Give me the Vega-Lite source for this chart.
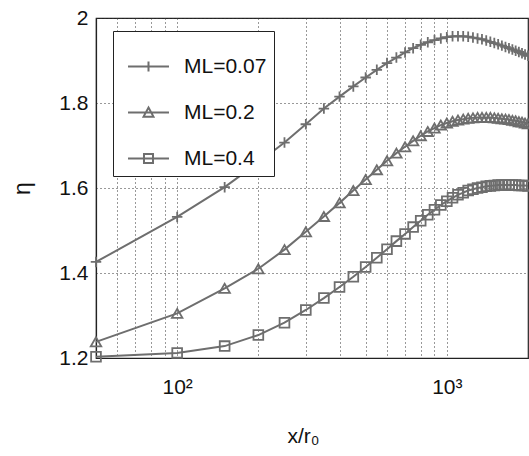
{
  "$schema": "https://vega.github.io/schema/vega-lite/v6.json",
  "width": 432,
  "height": 340,
  "autosize": {"type": "none"},
  "padding": {"left": 96, "top": 18, "right": 1, "bottom": 98},
  "background": "white",
  "config": {
    "view": {"stroke": "#222", "strokeWidth": 1.2},
    "font": "Liberation Sans",
    "axis": {"labelColor": "#111", "titleColor": "#111", "domainColor": "#222", "domainWidth": 1.2, "titleFontWeight": "normal"}
  },
  "data": {"values": [
    {"x": 50, "eta": 1.426, "ML": "ML=0.07"}, {"x": 100, "eta": 1.532, "ML": "ML=0.07"}, {"x": 150, "eta": 1.602, "ML": "ML=0.07"}, {"x": 200, "eta": 1.660, "ML": "ML=0.07"},
    {"x": 250, "eta": 1.707, "ML": "ML=0.07"}, {"x": 300, "eta": 1.750, "ML": "ML=0.07"}, {"x": 350, "eta": 1.787, "ML": "ML=0.07"}, {"x": 400, "eta": 1.815, "ML": "ML=0.07"},
    {"x": 450, "eta": 1.839, "ML": "ML=0.07"}, {"x": 500, "eta": 1.860, "ML": "ML=0.07"}, {"x": 550, "eta": 1.878, "ML": "ML=0.07"}, {"x": 600, "eta": 1.894, "ML": "ML=0.07"},
    {"x": 650, "eta": 1.907, "ML": "ML=0.07"}, {"x": 700, "eta": 1.919, "ML": "ML=0.07"}, {"x": 750, "eta": 1.929, "ML": "ML=0.07"}, {"x": 800, "eta": 1.937, "ML": "ML=0.07"},
    {"x": 850, "eta": 1.943, "ML": "ML=0.07"}, {"x": 900, "eta": 1.948, "ML": "ML=0.07"}, {"x": 950, "eta": 1.952, "ML": "ML=0.07"}, {"x": 1000, "eta": 1.955, "ML": "ML=0.07"},
    {"x": 1050, "eta": 1.957, "ML": "ML=0.07"}, {"x": 1100, "eta": 1.957, "ML": "ML=0.07"}, {"x": 1150, "eta": 1.957, "ML": "ML=0.07"}, {"x": 1200, "eta": 1.956, "ML": "ML=0.07"},
    {"x": 1250, "eta": 1.954, "ML": "ML=0.07"}, {"x": 1300, "eta": 1.952, "ML": "ML=0.07"}, {"x": 1350, "eta": 1.950, "ML": "ML=0.07"}, {"x": 1400, "eta": 1.947, "ML": "ML=0.07"},
    {"x": 1450, "eta": 1.944, "ML": "ML=0.07"}, {"x": 1500, "eta": 1.941, "ML": "ML=0.07"}, {"x": 1550, "eta": 1.938, "ML": "ML=0.07"}, {"x": 1600, "eta": 1.935, "ML": "ML=0.07"},
    {"x": 1650, "eta": 1.932, "ML": "ML=0.07"}, {"x": 1700, "eta": 1.929, "ML": "ML=0.07"}, {"x": 1750, "eta": 1.926, "ML": "ML=0.07"}, {"x": 1800, "eta": 1.923, "ML": "ML=0.07"},
    {"x": 1850, "eta": 1.920, "ML": "ML=0.07"}, {"x": 1900, "eta": 1.917, "ML": "ML=0.07"}, {"x": 1950, "eta": 1.914, "ML": "ML=0.07"}, {"x": 2000, "eta": 1.911, "ML": "ML=0.07"},

    {"x": 50, "eta": 1.238, "ML": "ML=0.2"}, {"x": 100, "eta": 1.305, "ML": "ML=0.2"}, {"x": 150, "eta": 1.364, "ML": "ML=0.2"}, {"x": 200, "eta": 1.410, "ML": "ML=0.2"},
    {"x": 250, "eta": 1.455, "ML": "ML=0.2"}, {"x": 300, "eta": 1.497, "ML": "ML=0.2"}, {"x": 350, "eta": 1.533, "ML": "ML=0.2"}, {"x": 400, "eta": 1.565, "ML": "ML=0.2"},
    {"x": 450, "eta": 1.594, "ML": "ML=0.2"}, {"x": 500, "eta": 1.620, "ML": "ML=0.2"}, {"x": 550, "eta": 1.643, "ML": "ML=0.2"}, {"x": 600, "eta": 1.664, "ML": "ML=0.2"},
    {"x": 650, "eta": 1.682, "ML": "ML=0.2"}, {"x": 700, "eta": 1.697, "ML": "ML=0.2"}, {"x": 750, "eta": 1.711, "ML": "ML=0.2"}, {"x": 800, "eta": 1.723, "ML": "ML=0.2"},
    {"x": 850, "eta": 1.733, "ML": "ML=0.2"}, {"x": 900, "eta": 1.741, "ML": "ML=0.2"}, {"x": 950, "eta": 1.748, "ML": "ML=0.2"}, {"x": 1000, "eta": 1.753, "ML": "ML=0.2"},
    {"x": 1050, "eta": 1.757, "ML": "ML=0.2"}, {"x": 1100, "eta": 1.760, "ML": "ML=0.2"}, {"x": 1150, "eta": 1.762, "ML": "ML=0.2"}, {"x": 1200, "eta": 1.764, "ML": "ML=0.2"},
    {"x": 1250, "eta": 1.765, "ML": "ML=0.2"}, {"x": 1300, "eta": 1.766, "ML": "ML=0.2"}, {"x": 1350, "eta": 1.766, "ML": "ML=0.2"}, {"x": 1400, "eta": 1.766, "ML": "ML=0.2"},
    {"x": 1450, "eta": 1.766, "ML": "ML=0.2"}, {"x": 1500, "eta": 1.765, "ML": "ML=0.2"}, {"x": 1550, "eta": 1.764, "ML": "ML=0.2"}, {"x": 1600, "eta": 1.763, "ML": "ML=0.2"},
    {"x": 1650, "eta": 1.762, "ML": "ML=0.2"}, {"x": 1700, "eta": 1.761, "ML": "ML=0.2"}, {"x": 1750, "eta": 1.759, "ML": "ML=0.2"}, {"x": 1800, "eta": 1.758, "ML": "ML=0.2"},
    {"x": 1850, "eta": 1.756, "ML": "ML=0.2"}, {"x": 1900, "eta": 1.755, "ML": "ML=0.2"}, {"x": 1950, "eta": 1.753, "ML": "ML=0.2"}, {"x": 2000, "eta": 1.751, "ML": "ML=0.2"},

    {"x": 50, "eta": 1.203, "ML": "ML=0.4"}, {"x": 100, "eta": 1.212, "ML": "ML=0.4"}, {"x": 150, "eta": 1.228, "ML": "ML=0.4"}, {"x": 200, "eta": 1.254, "ML": "ML=0.4"},
    {"x": 250, "eta": 1.283, "ML": "ML=0.4"}, {"x": 300, "eta": 1.313, "ML": "ML=0.4"}, {"x": 350, "eta": 1.341, "ML": "ML=0.4"}, {"x": 400, "eta": 1.367, "ML": "ML=0.4"},
    {"x": 450, "eta": 1.391, "ML": "ML=0.4"}, {"x": 500, "eta": 1.414, "ML": "ML=0.4"}, {"x": 550, "eta": 1.436, "ML": "ML=0.4"}, {"x": 600, "eta": 1.456, "ML": "ML=0.4"},
    {"x": 650, "eta": 1.475, "ML": "ML=0.4"}, {"x": 700, "eta": 1.492, "ML": "ML=0.4"}, {"x": 750, "eta": 1.508, "ML": "ML=0.4"}, {"x": 800, "eta": 1.523, "ML": "ML=0.4"},
    {"x": 850, "eta": 1.537, "ML": "ML=0.4"}, {"x": 900, "eta": 1.549, "ML": "ML=0.4"}, {"x": 950, "eta": 1.560, "ML": "ML=0.4"}, {"x": 1000, "eta": 1.569, "ML": "ML=0.4"},
    {"x": 1050, "eta": 1.577, "ML": "ML=0.4"}, {"x": 1100, "eta": 1.584, "ML": "ML=0.4"}, {"x": 1150, "eta": 1.589, "ML": "ML=0.4"}, {"x": 1200, "eta": 1.594, "ML": "ML=0.4"},
    {"x": 1250, "eta": 1.597, "ML": "ML=0.4"}, {"x": 1300, "eta": 1.600, "ML": "ML=0.4"}, {"x": 1350, "eta": 1.602, "ML": "ML=0.4"}, {"x": 1400, "eta": 1.604, "ML": "ML=0.4"},
    {"x": 1450, "eta": 1.605, "ML": "ML=0.4"}, {"x": 1500, "eta": 1.606, "ML": "ML=0.4"}, {"x": 1550, "eta": 1.607, "ML": "ML=0.4"}, {"x": 1600, "eta": 1.607, "ML": "ML=0.4"},
    {"x": 1650, "eta": 1.607, "ML": "ML=0.4"}, {"x": 1700, "eta": 1.607, "ML": "ML=0.4"}, {"x": 1750, "eta": 1.607, "ML": "ML=0.4"}, {"x": 1800, "eta": 1.607, "ML": "ML=0.4"},
    {"x": 1850, "eta": 1.606, "ML": "ML=0.4"}, {"x": 1900, "eta": 1.606, "ML": "ML=0.4"}, {"x": 1950, "eta": 1.606, "ML": "ML=0.4"}, {"x": 2000, "eta": 1.605, "ML": "ML=0.4"}
  ]},
  "encoding": {
    "x": {
      "field": "x", "type": "quantitative",
      "scale": {"type": "log", "domain": [50, 2000], "nice": false},
      "axis": {
        "values": [60, 70, 80, 90, 100, 200, 300, 400, 500, 600, 700, 800, 900, 1000],
        "labelExpr": "datum.value == 100 ? '10²' : datum.value == 1000 ? '10³' : ''",
        "labelOverlap": false, "labelBound": false, "labelFlush": false,
        "ticks": false, "grid": true,
        "gridColor": "#333", "gridDash": [1, 3], "gridWidth": 1,
        "labelFontSize": 21, "labelPadding": 18,
        "title": "x/r₀", "titleFontSize": 21, "titlePadding": 28, "titleX": 207
      }
    },
    "y": {
      "field": "eta", "type": "quantitative",
      "scale": {"domain": [1.2, 2], "nice": false, "zero": false},
      "axis": {
        "values": [1.2, 1.4, 1.6, 1.8, 2],
        "format": ".1~f",
        "ticks": false, "grid": true,
        "gridColor": "#333", "gridDash": [1, 3], "gridWidth": 1,
        "labelFontSize": 21, "labelPadding": 8, "labelFlush": false,
        "title": "η", "titleFontSize": 23, "titlePadding": 24
      }
    }
  },
  "layer": [
    {
      "mark": {"type": "line", "stroke": "#6e6e6e", "strokeWidth": 2},
      "encoding": {"detail": {"field": "ML", "type": "nominal"}}
    },
    {
      "transform": [{"filter": "datum.ML == 'ML=0.07'"}],
      "mark": {"type": "point", "filled": false, "shape": "M-1,0H1M0,-1V1", "stroke": "#6e6e6e", "strokeWidth": 1.8, "opacity": 1, "size": 110},
      "encoding": {}
    },
    {
      "transform": [{"filter": "datum.ML == 'ML=0.2'"}],
      "mark": {"type": "point", "filled": false, "shape": "triangle-up", "stroke": "#6e6e6e", "strokeWidth": 1.8, "opacity": 1, "size": 110},
      "encoding": {}
    },
    {
      "transform": [{"filter": "datum.ML == 'ML=0.4'"}],
      "mark": {"type": "point", "filled": false, "shape": "square", "stroke": "#6e6e6e", "strokeWidth": 1.8, "opacity": 1, "size": 95},
      "encoding": {}
    },
    {
      "transform": [{"filter": "datum.ML == 'legend only'"}],
      "mark": {"type": "point", "filled": false, "stroke": "#6e6e6e", "strokeWidth": 2, "opacity": 1},
      "encoding": {
        "shape": {
          "field": "ML", "type": "nominal",
          "scale": {
            "domain": ["ML=0.07", "ML=0.2", "ML=0.4"],
            "range": [
              "M-0.745,0H0.745M0,-0.18V0.18",
              "M-0.745,0H0.745M0,-0.18L0.18,0.15H-0.18Z",
              "M-0.745,0H0.745M-0.164,-0.164H0.164V0.164H-0.164Z"
            ]
          },
          "legend": {
            "orient": "none", "legendX": 17, "legendY": 13,
            "title": null,
            "strokeColor": "#222", "fillColor": "white", "padding": 7,
            "symbolSize": 3025, "symbolStrokeColor": "#6e6e6e", "symbolStrokeWidth": 2, "symbolFillColor": "transparent",
            "labelFontSize": 21, "labelColor": "#111", "labelOffset": 7, "rowPadding": 7,
            "labelExpr": "datum.label + '\u00a0\u00a0\u00a0\u00a0\u00a0\u00a0\u00a0\u00a0'"
          }
        }
      }
    }
  ]
}
